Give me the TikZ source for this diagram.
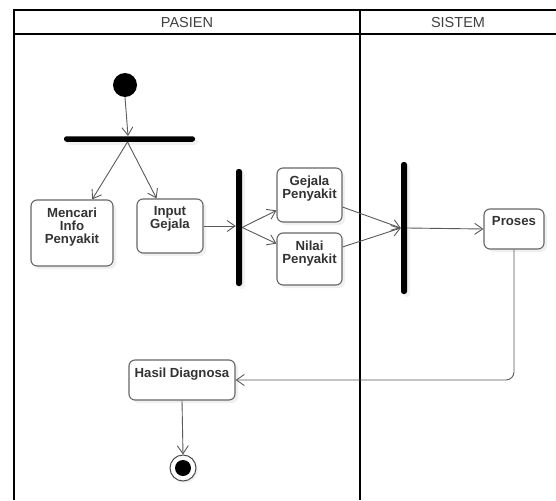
\documentclass[tikz,border=0pt]{standalone}
\usepackage{fontspec}
\setmainfont{Liberation Sans}
\usetikzlibrary{positioning, arrows.meta, shadows}
\tikzset{>={Straight Barb[length=8pt,width=11pt]}}
\tikzset{
	lane/.style={line width=2pt, black},
	lanetitle/.style={font=\fontsize{14.5}{14.5}\selectfont, text=black!75},
	actbox/.style={draw=black!60, line width=1.1pt, rounded corners=6pt, fill=white,
		drop shadow={shadow xshift=3pt, shadow yshift=-3pt, opacity=0.12}},
	acttext/.style={anchor=north, inner sep=0pt, align=center, text=black!80,
		font=\bfseries\fontsize{13.2}{13.2}\selectfont},
	syncbar/.style={fill=black, inner sep=0pt, rounded corners=2.5pt,
		drop shadow={shadow xshift=3pt, shadow yshift=-3pt, opacity=0.1}},
	flow/.style={->, draw=black!65, line width=0.9pt}
}

\begin{document}
\begin{tikzpicture}[x=1pt, y=-1pt]
		\useasboundingbox (0,0) rectangle (556,500);

		% swimlanes
		\draw[lane] (556,10) -| (14,500);
		\draw[lane] (14,34) -- (556,34);
		\draw[lane] (360,10) -- (360,500);
		\node[lanetitle] (pasien) at (187,23) {PASIEN};
		\node[lanetitle] (sistem) at (458,23) {SISTEM};

		% start, bars and end
		\node[circle, fill=black, minimum size=24pt, inner sep=0pt] (start) at (125,85) {};
		\node[syncbar, minimum width=131pt, minimum height=5.5pt] (fork) at (129.5,139) {};
		\node[syncbar, minimum width=6pt, minimum height=117pt] (join) at (239,227.5) {};
		\node[syncbar, minimum width=6pt, minimum height=132pt] (merge) at (404,228) {};
		\node[circle, draw=black!70, line width=1pt, fill=white, minimum size=26pt, inner sep=0pt,
			drop shadow={shadow xshift=2pt, shadow yshift=-2pt, opacity=0.12}] (stop) at (183,468) {};
		\node[circle, fill=black, minimum size=16pt, inner sep=0pt] (stopdot) at (stop) {};

		% activities
		\node[actbox, minimum width=82pt, minimum height=66pt] (mencari) at (72,233) {};
		\node[actbox, minimum width=66pt, minimum height=54pt] (input) at (170,226) {};
		\node[actbox, minimum width=65pt, minimum height=54pt] (gejala) at (309.5,195) {};
		\node[actbox, minimum width=65pt, minimum height=52pt] (nilai) at (309.5,259) {};
		\node[actbox, minimum width=60pt, minimum height=40pt] (proses) at (514,229) {};
		\node[actbox, minimum width=106pt, minimum height=40pt] (hasil) at (182,380) {};

		\begin{scope}[every node/.append style={acttext}]
			\node[below=8pt of mencari.north] (mencaritxt) {Mencari\\Info\\Penyakit};
			\node[below=8pt of input.north] (inputtxt) {Input\\Gejala};
			\node[below=8pt of gejala.north] (gejalatxt) {Gejala\\Penyakit};
			\node[below=8pt of nilai.north] (nilaitxt) {Nilai\\Penyakit};
			\node[below=8pt of proses.north] (prosestxt) {Proses};
			\node[below=8pt of hasil.north] (hasiltxt) {Hasil Diagnosa};
		\end{scope}

		% flows
		\draw[flow] (start.south) -- ([xshift=-1.5pt]fork.north);
		\draw[flow] ([xshift=-2pt]fork.south) -- (mencari.59);
		\draw[flow] ([xshift=-2pt]fork.south) -- (input.116);
		\draw[flow] (input.east) -- (input.east -| join.west);
		\draw[flow] (join.east) -- (gejala.205);
		\draw[flow] (join.east) -- (nilai.155);
		\draw[flow] (gejala.-20) -- (merge.west);
		\draw[flow] (nilai.20) -- (merge.west);
		\draw[flow] (merge.east) -- (proses.west);
		\draw[flow, rounded corners=8pt] (proses.south) |- (hasil.east);
		\draw[flow] (hasil.south) -- (stop.north);
	\end{tikzpicture}
\end{document}
